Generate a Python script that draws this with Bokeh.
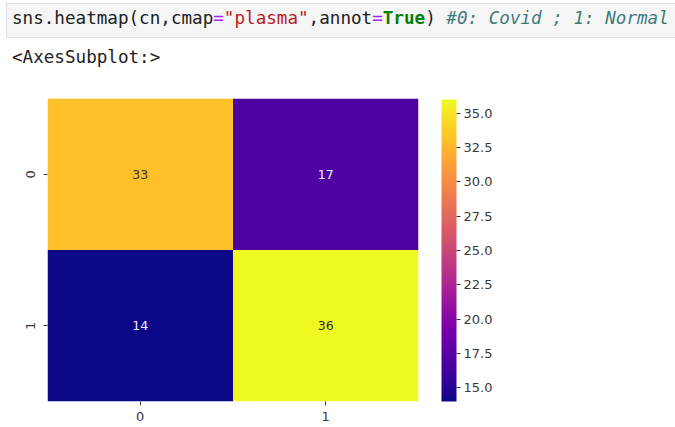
from bokeh.plotting import figure
from bokeh.layouts import column
from bokeh.models import (Range1d, FixedTicker, LinearColorMapper, ColorBar, Div,
                          PrintfTickFormatter, ColumnDataSource)
from bokeh.palettes import Plasma256
from bokeh.core.properties import value
from bokeh.embed import file_html
from bokeh.resources import INLINE

# ---- data ----
row_labels = ["0", "1"]
col_labels = ["0", "1"]
row0_values = [33, 17]
row1_values = [14, 36]
vmin = 14
vmax = 36
cbar_ticks = [15.0, 17.5, 20.0, 22.5, 25.0, 27.5, 30.0, 32.5, 35.0]

code_parts = [
    ("sns.heatmap(cn,cmap", "#212121", "normal", "normal"),
    ("=", "#aa22ff", "normal", "normal"),
    ('"plasma"', "#ba2121", "normal", "normal"),
    (",annot", "#212121", "normal", "normal"),
    ("=", "#aa22ff", "normal", "normal"),
    ("True", "#008000", "bold", "normal"),
    (") ", "#212121", "normal", "normal"),
    ("#0: Covid ; 1: Normal", "#3d7b7b", "normal", "italic"),
]
output_text = "<AxesSubplot:>"

W, H = 675, 427
HEADER_H = 98
mapper = LinearColorMapper(palette=Plasma256, low=vmin, high=vmax)

# ---- notebook header (code cell + output prompt) ----
def esc(s):
    return s.replace("&", "&amp;").replace("<", "&lt;").replace(">", "&gt;").replace('"', "&quot;")

spans = "".join(
    f'<span style="color:{c};font-weight:{w};font-style:{st};">{esc(t)}</span>'
    for t, c, w, st in code_parts)
mono = "font-family:'DejaVu Sans Mono',monospace;font-size:17.6px;line-height:17.6px;white-space:pre;"
header_html = (
    f'<div style="position:relative;width:{W}px;height:{HEADER_H}px;overflow:hidden;background:white;">'
    f'<div style="position:absolute;left:6px;top:3px;width:690px;height:35px;'
    f'background:#f5f5f5;border:1px solid #e0e0e0;"></div>'
    f'<div style="position:absolute;left:12px;top:10px;{mono}">{spans}</div>'
    f'<div style="position:absolute;left:12px;top:49px;{mono}color:#212121;">{esc(output_text)}</div>'
    f'</div>')
header = Div(text=header_html, width=W, height=HEADER_H, margin=(0, 0, 0, 0))

# ---- heatmap ----
xs, ys, vals, tcols = [], [], [], []
for r, rowvals in enumerate([row0_values, row1_values]):
    for c, v in enumerate(rowvals):
        xs.append(c + 0.5)
        ys.append(r + 0.5)
        vals.append(v)
        idx = int(round((v - vmin) / (vmax - vmin) * 255))
        hexc = Plasma256[max(0, min(255, idx))]
        rr, gg, bb = (int(hexc[i:i + 2], 16) / 255 for i in (1, 3, 5))
        lum = 0.2126 * rr + 0.7152 * gg + 0.0722 * bb
        tcols.append("#333333" if lum > 0.408 else "#f4f0fa")

src = ColumnDataSource(dict(x=xs, y=ys, v=vals, t=[str(v) for v in vals], tc=tcols))

p = figure(width=W, height=H - HEADER_H, output_backend="svg", toolbar_location=None,
           x_range=Range1d(0, 2), y_range=Range1d(2, 0),
           min_border_left=47, min_border_right=257, min_border_top=0,
           min_border_bottom=26, outline_line_color=None, margin=(0, 0, 0, 0))
p.grid.visible = False

p.rect(x="x", y="y", width=1, height=1, source=src,
       fill_color={"field": "v", "transform": mapper}, line_color=None)
p.text(x="x", y="y", text="t", source=src, text_color="tc",
       text_align="center", text_baseline="middle",
       text_font=value("DejaVu Sans"), text_font_size="12.5px")

for ax, labs in ((p.xaxis[0], col_labels), (p.yaxis[0], row_labels)):
    ax.ticker = FixedTicker(ticks=[0.5, 1.5])
    ax.major_label_overrides = {0.5: labs[0], 1.5: labs[1]}
    ax.axis_line_color = None
    ax.minor_tick_line_color = None
    ax.major_tick_in = 0
    ax.major_tick_out = 4
    ax.major_tick_line_color = "#3a3a3a"
    ax.major_label_text_font = "DejaVu Sans"
    ax.major_label_text_font_size = "13px"
    ax.major_label_text_color = "#3a3a3a"
p.xaxis[0].major_label_standoff = 6
p.yaxis[0].major_label_standoff = 9
p.yaxis[0].major_label_orientation = "vertical"

cb = ColorBar(color_mapper=mapper, width=15, height=302, padding=0, margin=0,
              location=(23, 0),
              ticker=FixedTicker(ticks=cbar_ticks),
              formatter=PrintfTickFormatter(format="%.1f"),
              major_tick_in=0, major_tick_out=4, major_tick_line_color="#3a3a3a",
              minor_tick_line_color=None, bar_line_color=None,
              major_label_text_font="DejaVu Sans", major_label_text_font_size="13px",
              major_label_text_color="#3a3a3a", label_standoff=3,
              background_fill_color=None, border_line_color=None)
p.add_layout(cb, "right")

layout = column(header, p, spacing=0, margin=(0, 0, 0, 0))
open("out.html", "w").write(file_html(layout, INLINE))
